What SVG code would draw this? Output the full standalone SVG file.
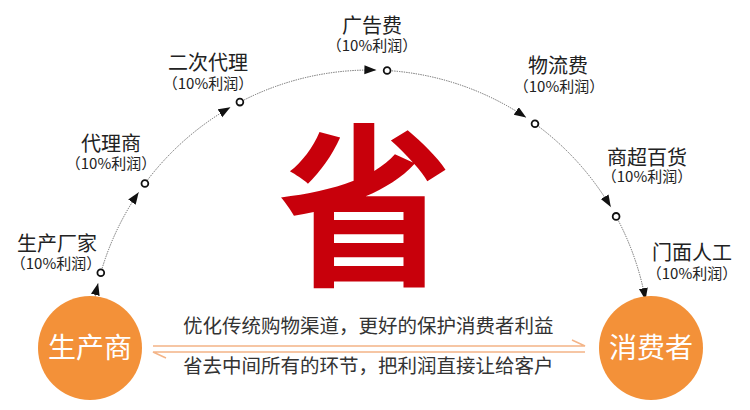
<svg xmlns="http://www.w3.org/2000/svg" width="750" height="410" viewBox="0 0 750 410">
  <style>
    text { font-family: "Noto Sans CJK SC", "Noto Sans", sans-serif; }
    .lbl { font-size: 20px; fill: #222; text-anchor: middle; }
    .pct { font-size: 15px; fill: #222; text-anchor: middle; }
    .msg { font-size: 19.5px; fill: #333; }
    .big { font-size: 28px; fill: #fff; text-anchor: middle; }
    .arc { fill: none; stroke: #666; stroke-width: 1; stroke-dasharray: 1.3 1.1; }
    .ring { fill: #fff; stroke: #111; stroke-width: 1.8; }
    .orange { fill: #F39139; }
    .hl { fill: none; stroke: #F4B487; stroke-width: 1.5; }
  </style>
  <defs>
    <marker id="ah" markerUnits="userSpaceOnUse" markerWidth="13" markerHeight="10" refX="12" refY="4.5" orient="auto">
      <path d="M0,0 L12,4.5 L0,9 z" fill="#111"/>
    </marker>
  </defs>
  <rect width="750" height="410" fill="#fff"/>

  <g id="connectors">
    <path class="arc" marker-end="url(#ah)" d="M95.2,296.6 A280,280 0 0 1 98.1,283.2"/>
    <path class="arc" marker-end="url(#ah)" d="M100.8,272.8 A280,280 0 0 1 138.7,192.2"/>
    <path class="arc" marker-end="url(#ah)" d="M144.9,183.5 A280,280 0 0 1 230.4,107.3"/>
    <path class="arc" marker-end="url(#ah)" d="M239.9,102.1 A280,280 0 0 1 376.4,70.1"/>
    <path class="arc" marker-end="url(#ah)" d="M387.1,70.5 A280,280 0 0 1 526.2,117.6"/>
    <path class="arc" marker-end="url(#ah)" d="M535.0,123.8 A280,280 0 0 1 610.8,207.1"/>
    <path class="arc" marker-end="url(#ah)" d="M616.1,216.4 A280,280 0 0 1 645.5,300.0"/>
  </g>

  <g id="center-char">
    <text x="365" y="272" font-size="175" font-weight="bold" fill="#C8000B" text-anchor="middle">省</text>
  </g>

  <g id="n1">
    <circle class="ring" cx="100.8" cy="272.8" r="3.4"/>
    <text class="lbl" x="57" y="251">生产厂家</text>
    <text class="pct" x="56" y="269">（10%利润）</text>
  </g>
  <g id="n2">
    <circle class="ring" cx="144.9" cy="183.5" r="3.4"/>
    <text class="lbl" x="111" y="151">代理商</text>
    <text class="pct" x="111" y="169">（10%利润）</text>
  </g>
  <g id="n3">
    <circle class="ring" cx="239.9" cy="102.1" r="3.4"/>
    <text class="lbl" x="208" y="70">二次代理</text>
    <text class="pct" x="208" y="89">（10%利润）</text>
  </g>
  <g id="n4">
    <circle class="ring" cx="387.1" cy="70.5" r="3.4"/>
    <text class="lbl" x="372" y="33">广告费</text>
    <text class="pct" x="372" y="51">（10%利润）</text>
  </g>
  <g id="n5">
    <circle class="ring" cx="535.0" cy="123.8" r="3.4"/>
    <text class="lbl" x="558" y="73">物流费</text>
    <text class="pct" x="559" y="92">（10%利润）</text>
  </g>
  <g id="n6">
    <circle class="ring" cx="616.1" cy="216.4" r="3.4"/>
    <text class="lbl" x="647" y="165">商超百货</text>
    <text class="pct" x="647" y="182">（10%利润）</text>
  </g>
  <g id="n7">
    <text class="lbl" x="692" y="260">门面人工</text>
    <text class="pct" x="692" y="279">（10%利润）</text>
  </g>

  <g id="producer">
    <circle class="orange" cx="90" cy="348" r="52"/>
    <text class="big" x="90" y="358">生产商</text>
  </g>
  <g id="consumer">
    <circle class="orange" cx="651" cy="348" r="52"/>
    <text class="big" x="651" y="358">消费者</text>
  </g>

  <g id="message">
    <text class="msg" x="183" y="333">优化传统购物渠道，更好的保护消费者利益</text>
    <path class="hl" d="M153,346 L585,346 L572,340"/>
    <path class="hl" d="M585,352 L153,352 L166,358"/>
    <text class="msg" x="183" y="373">省去中间所有的环节，把利润直接让给客户</text>
  </g>
</svg>
